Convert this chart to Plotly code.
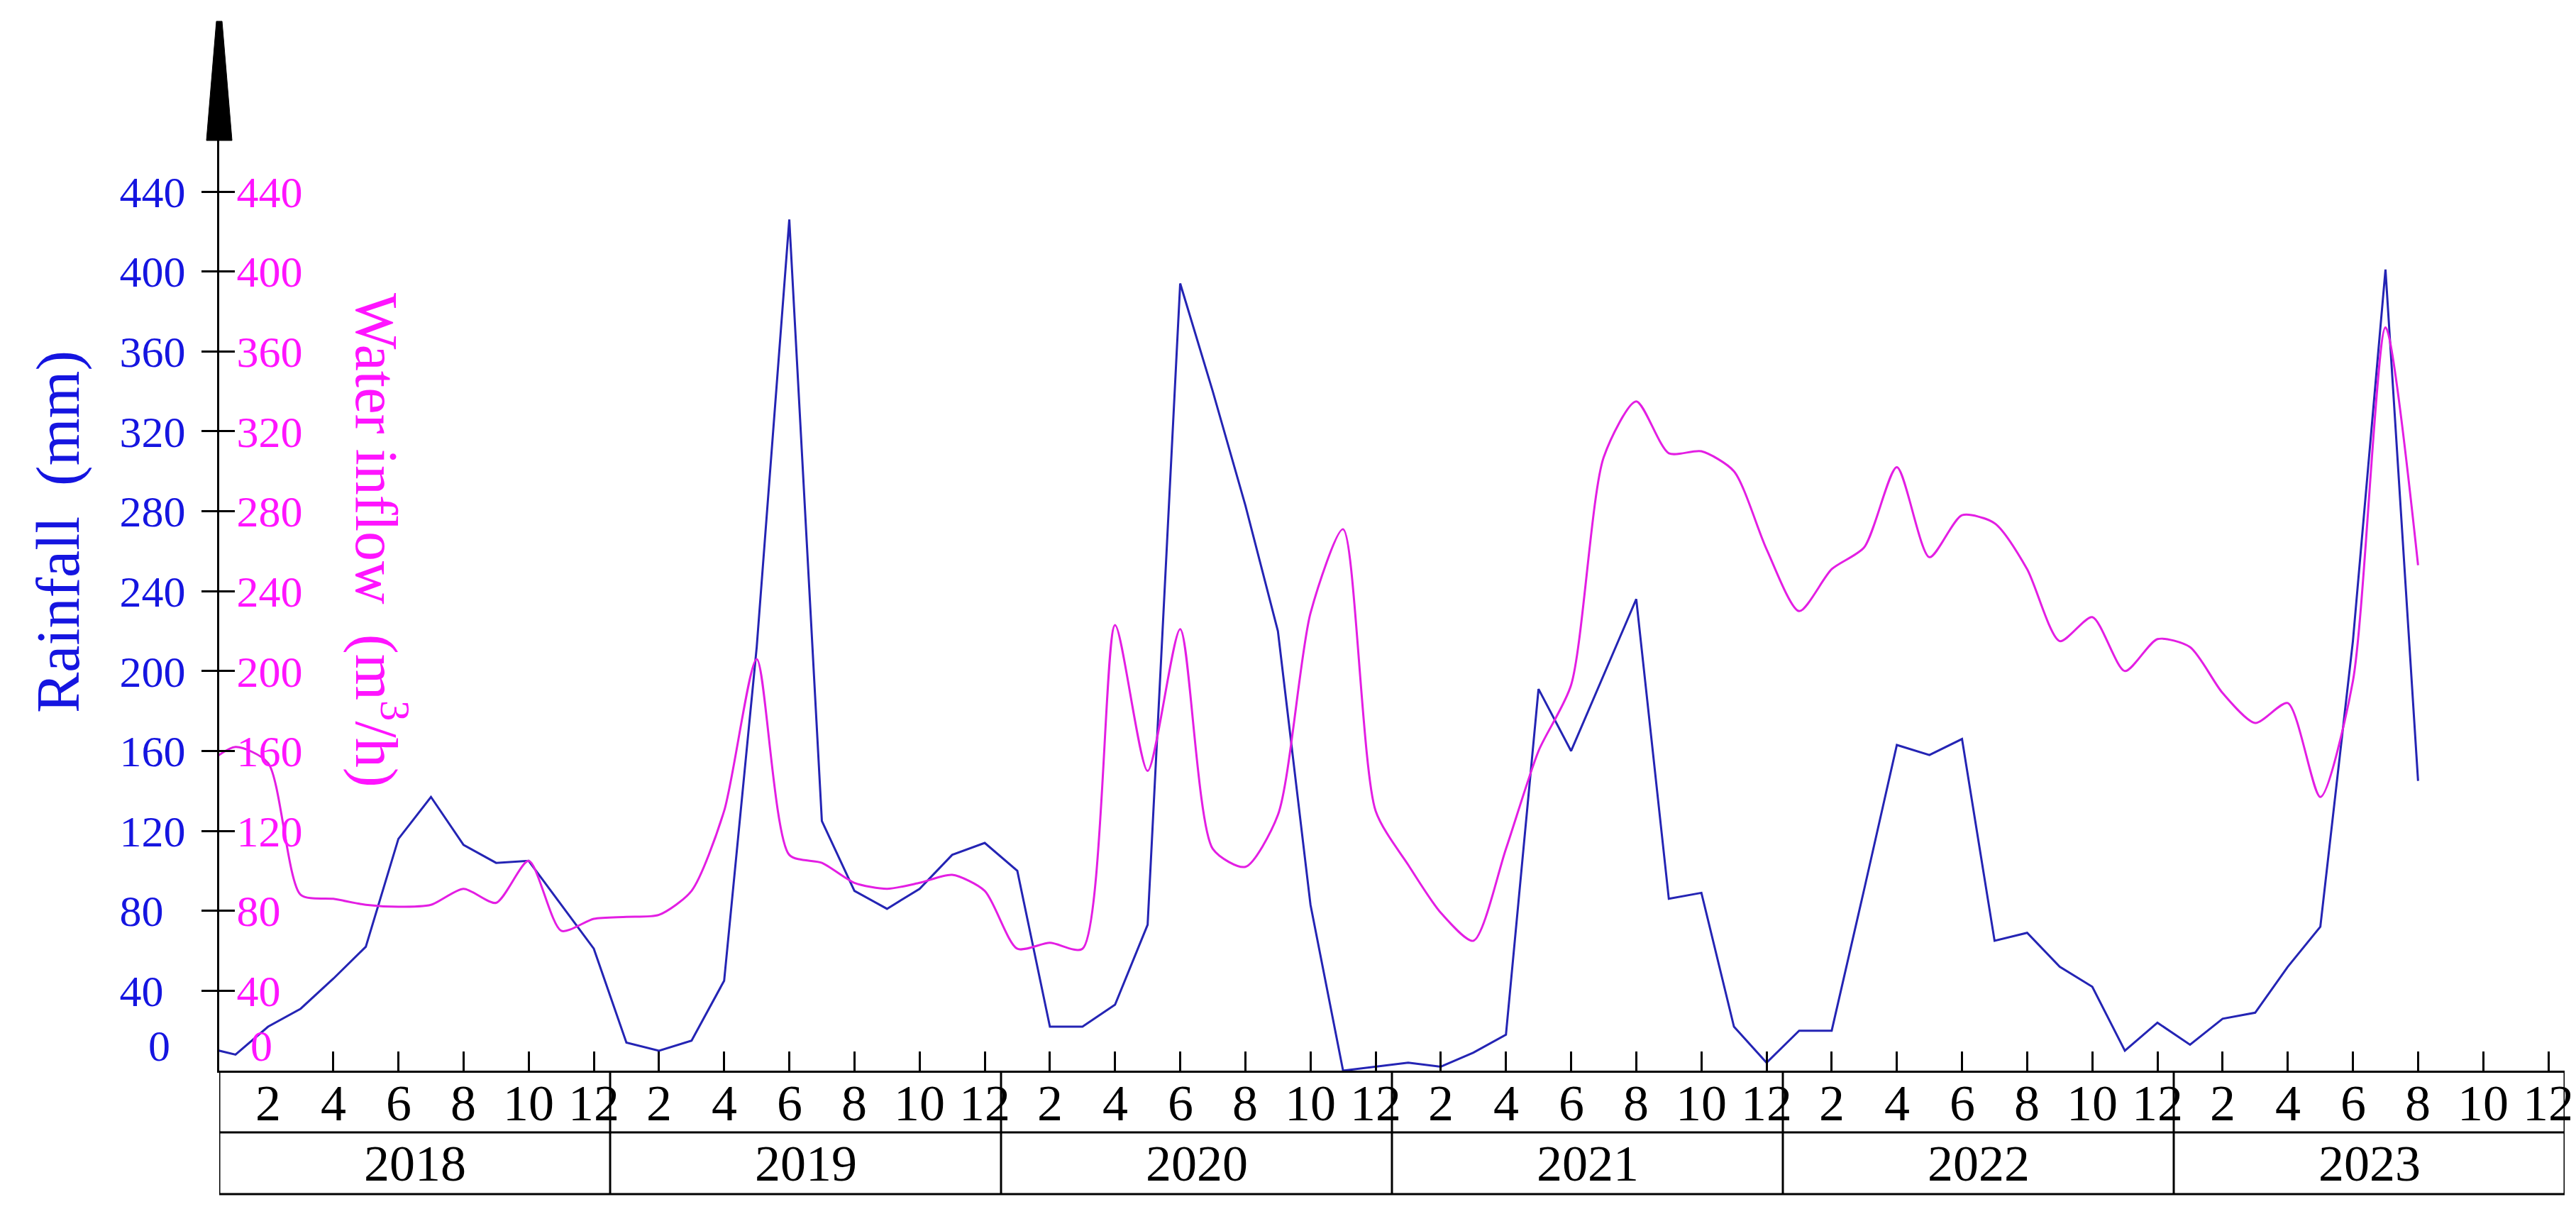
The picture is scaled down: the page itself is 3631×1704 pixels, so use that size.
import plotly.graph_objects as go

# ---------------- data ----------------
years = [2018, 2019, 2020, 2021, 2022, 2023]
month_tick_labels = ["2", "4", "6", "8", "10", "12"]
y_tick_values = [40, 80, 120, 160, 200, 240, 280, 320, 360, 400, 440]

# monthly series, starting Dec 2017 (clipped at the axis), ending Aug 2023
start_year, start_month = 2017, 12
rainfall = [12,
            8, 22, 31, 46, 62, 116, 137, 113, 104, 105, 83, 61,
            14, 10, 15, 45, 212, 426, 125, 90, 81, 91, 108, 114,
            100, 22, 22, 33, 73, 394, 340, 283, 220, 83, 0, 2,
            4, 2, 9, 18, 191, 160, 198, 236, 86, 89, 22, 4,
            20, 20, 91, 163, 158, 166, 65, 69, 52, 42, 10, 24,
            13, 26, 29, 52, 72, 215, 401, 145]
inflow = [152,
          162, 154, 88, 86, 83, 82, 83, 91, 84, 105, 70, 76,
          77, 78, 90, 130, 206, 108, 104, 94, 91, 94, 98, 90,
          61, 64, 61, 223, 150, 221, 111, 102, 128, 229, 271, 130,
          103, 79, 65, 111, 160, 193, 307, 335, 309, 310, 300, 261,
          230, 251, 262, 302, 257, 278, 274, 251, 215, 227, 200, 216,
          212, 189, 174, 184, 137, 195, 372, 253]

# month index (Jan 2018 = 1)
x_idx = [(start_year - years[0]) * 12 + start_month + k for k in range(len(rainfall))]

# ---------------- styling ----------------
W, H = 3631, 1704
ML, MR, MT, MB = 301, 24, 190, 203
PW, PH = W - ML - MR, H - MT - MB
FONT = "Liberation Serif"
BLUE_LINE = "#2424b4"
BLUE_TXT = "#1515e0"
MAG_LINE = "#e31ee3"
MAG_TXT = "#ff14ff"
YMAX = 440 * (H - MB - MT) / (H - MB - 262)


def py(pix_y):
    return (H - MB - pix_y) / PH


def px(pix_x):
    return (pix_x - ML) / PW


fig = go.Figure()
fig.add_trace(go.Scatter(x=x_idx, y=rainfall, mode="lines",
                         line=dict(color=BLUE_LINE, width=3), yaxis="y",
                         name="Rainfall", cliponaxis=True))
fig.add_trace(go.Scatter(x=x_idx, y=inflow, mode="lines",
                         line=dict(color=MAG_LINE, width=3, shape="spline", smoothing=0.7),
                         yaxis="y2", name="Water inflow", cliponaxis=True))

n_months = len(years) * 12
tickvals_x = list(range(2, n_months + 1, 2))
ticktext_x = month_tick_labels * len(years)

fig.update_layout(
    width=W, height=H,
    margin=dict(l=ML, r=MR, t=MT, b=MB),
    paper_bgcolor="white", plot_bgcolor="white",
    showlegend=False,
    font=dict(family=FONT, color="black"),
    xaxis=dict(range=[0.5, n_months + 0.5], tickmode="array",
               tickvals=tickvals_x, showticklabels=False,
               ticks="inside", ticklen=27, tickwidth=3, tickcolor="black",
               showline=True, linecolor="black", linewidth=3,
               showgrid=False, zeroline=False),
    yaxis=dict(range=[0, YMAX], tickmode="array", tickvals=y_tick_values,
               ticktext=[f"{v}" + "\u2007" * (3 - len(str(v))) for v in y_tick_values],
               ticks="outside", ticklen=22, tickwidth=3, tickcolor="black",
               tickfont=dict(size=62, family=FONT, color=BLUE_TXT),
               showline=True, linecolor="black", linewidth=3,
               showgrid=False, zeroline=False, ticklabelstandoff=10),
    yaxis2=dict(range=[0, YMAX], overlaying="y", side="left",
                tickmode="array", tickvals=y_tick_values,
                ticks="inside", ticklen=22, tickwidth=3, tickcolor="black",
                ticklabelposition="inside", ticklabelstandoff=12,
                tickfont=dict(size=62, family=FONT, color=MAG_TXT),
                showline=False, showgrid=False, zeroline=False),
)

shapes = []
# arrow on top of y axis
shapes.append(dict(type="path", xref="paper", yref="paper",
                   path=f"M {px(283)} {py(190)} L {px(297)} {py(22)} L {px(305)} {py(22)} L {px(319)} {py(190)} Z",
                   fillcolor="black", line=dict(color="black", width=1)))
# table below the axis
row1, row2 = 1588, 1675
for yy in (row1, row2):
    shapes.append(dict(type="line", xref="paper", yref="paper",
                       x0=0, x1=1, y0=py(yy), y1=py(yy),
                       line=dict(color="black", width=3)))
for k in range(len(years) + 1):
    shapes.append(dict(type="line", xref="x", yref="paper",
                       x0=0.5 + 12 * k, x1=0.5 + 12 * k, y0=0, y1=py(row2),
                       line=dict(color="black", width=3)))
fig.update_layout(shapes=shapes)

ann = []
# month labels in the first table row
for xv, txt in zip(tickvals_x, ticktext_x):
    ann.append(dict(x=xv, y=py((H - MB + row1) / 2 + 2), xref="x", yref="paper",
                    text=txt, showarrow=False, xanchor="center", yanchor="middle",
                    font=dict(size=72, family=FONT, color="black")))
# year labels in the second table row
for k, yr in enumerate(years):
    ann.append(dict(x=6.5 + 12 * k, y=py((row1 + row2) / 2), xref="x", yref="paper",
                    text=str(yr), showarrow=False, xanchor="center", yanchor="middle",
                    font=dict(size=72, family=FONT, color="black")))
# zero labels, raised above the axis line
ann.append(dict(x=px(216), y=py(1466), xref="paper", yref="paper", text="0",
                showarrow=False, xanchor="center", yanchor="middle",
                font=dict(size=62, family=FONT, color=BLUE_TXT)))
ann.append(dict(x=px(360), y=py(1466), xref="paper", yref="paper", text="0",
                showarrow=False, xanchor="center", yanchor="middle",
                font=dict(size=62, family=FONT, color=MAG_TXT)))
# axis titles
ann.append(dict(x=px(74), y=py(741), xref="paper", yref="paper",
                text="Rainfall\u2002(mm)", textangle=-90, showarrow=False,
                xanchor="center", yanchor="middle",
                font=dict(size=86, family=FONT, color=BLUE_TXT)))
ann.append(dict(x=px(528), y=py(753), xref="paper", yref="paper",
                text="Water inflow\u2002(m<sup>3</sup>/h)", textangle=90, showarrow=False,
                xanchor="center", yanchor="middle",
                font=dict(size=84, family=FONT, color=MAG_TXT)))
fig.update_layout(annotations=ann)

fig.write_html("out.html")
